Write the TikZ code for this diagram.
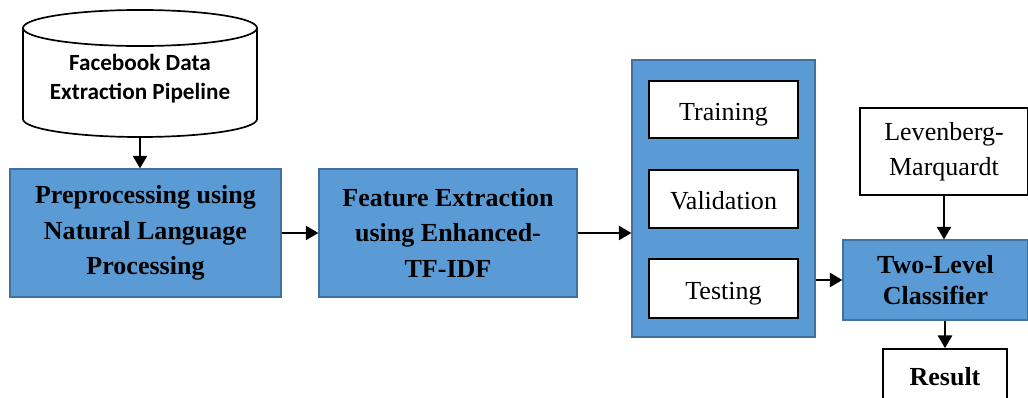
\documentclass[tikz,border=0pt]{standalone}
\usepackage{fontspec}
\setmainfont{Liberation Serif}
\newfontfamily\cylfont{Carlito}
\usetikzlibrary{shapes,arrows.meta,calc}
\definecolor{boxblue}{HTML}{5B9BD5}
\definecolor{edgeblue}{HTML}{41719C}

\begin{document}
\begin{tikzpicture}[x=0.025cm,y=-0.025cm,
	bluebox/.style={draw=edgeblue,fill=boxblue,line width=0.8pt,align=center,inner sep=0pt,
		font=\bfseries\fontsize{18.5}{25}\selectfont},
	whitebox/.style={draw=black,fill=white,line width=1.2pt,align=center,inner sep=0pt,
		font=\fontsize{18.5}{25}\selectfont},
	onerow/.style={text height=15pt,text depth=0pt},
	cylfont/.style={font=\cylfont\bfseries\fontsize{16.5}{20.6}\selectfont},
	link/.style={-{Triangle[length=9pt,width=10pt]},line width=1.7pt}]
	\clip (0,0) rectangle (1028,398);

	% data source
	\node[cylinder,shape border rotate=90,aspect=0.19,draw,line width=1.2pt,fill=white,cylfont,
		align=center,minimum width=5.85cm,minimum height=3.175cm,anchor=shape center] (fb) at (140,73.5)
		{\phantom{Facebook Data}\\\phantom{Extraction Pipeline}};
	\node[align=center,cylfont] (fbtext) at (140,79)
		{Facebook Data\\Extraction Pipeline};

	% main chain
	\node[bluebox,minimum width=6.775cm,minimum height=3.2cm] (prep) at (145.5,233)
		{Preprocessing using\\Natural Language\\Processing};
	\node[bluebox,minimum width=6.45cm,minimum height=3.2cm] (feat) at (448,233)
		{Feature Extraction\\using Enhanced-\\TF-IDF};

	% data split
	\node[bluebox,minimum width=4.575cm,minimum height=6.925cm] (split) at (723.5,198.5) {};
	\node[whitebox,onerow,minimum width=3.725cm,minimum height=1.425cm] (train) at (723.5,109.5) {Training};
	\node[whitebox,onerow,minimum width=3.725cm,minimum height=1.45cm] (valid) at (723.5,199) {Validation};
	\node[whitebox,onerow,minimum width=3.725cm,minimum height=1.475cm] (test) at (723.5,288.5) {Testing};

	% classifier
	\node[whitebox,minimum width=4.2cm,minimum height=2.175cm] (lm) at (944,151.5)
		{Levenberg-\\Marquardt};
	\node[bluebox,minimum width=4.625cm,minimum height=2cm,
		font=\bfseries\fontsize{18.5}{22}\selectfont] (clf) at (935.5,280)
		{Two-Level\\Classifier};
	\node[whitebox,minimum width=3.1cm,minimum height=1.4cm,font=\bfseries\fontsize{18.5}{25}\selectfont]
		(res) at (945,377) {Result};

	\draw[link] (fb.south) -- (fb.south |- prep.north);
	\draw[link] (prep.east) -- (feat.west);
	\draw[link] (feat.east) -- (split.west |- feat.east);
	\draw[link] (split.east |- clf.west) -- (clf.west);
	\draw[link] (lm.south) -- (lm.south |- clf.north);
	\draw[link] (res.north |- clf.south) -- (res.north);
\end{tikzpicture}
\end{document}
